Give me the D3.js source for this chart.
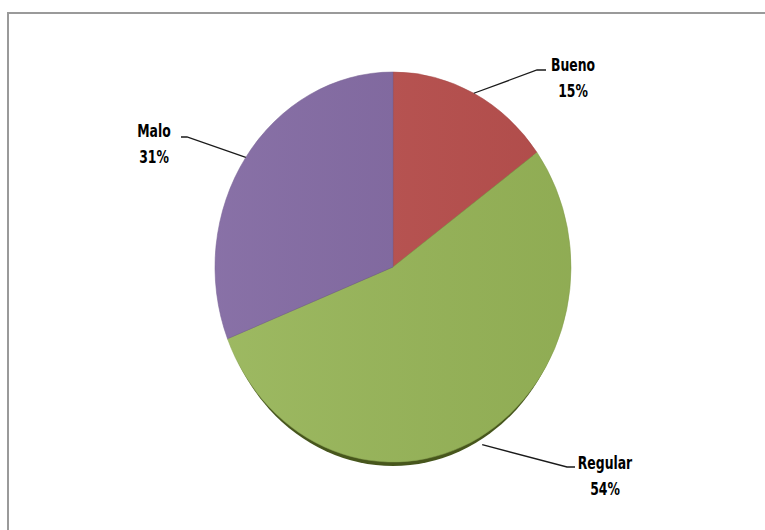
<!DOCTYPE html>
<html>
<head>
<meta charset="utf-8">
<script src="https://cdn.jsdelivr.net/npm/d3@7"></script>
<style>
  html, body { margin: 0; background: #fff; overflow: hidden; }
  svg { display: block; }
  text { font-family: "DejaVu Sans Condensed", "Liberation Sans", sans-serif; font-weight: bold; }
</style>
</head>
<body>
<div id="chart"></div>
<script>
const categories = ["Bueno", "Regular", "Malo"];
const values = [15, 54, 31];
const percentLabels = ["15%", "54%", "31%"];
const colors = ["#B9504E", "#97B558", "#8168A1"];

// label anchor (centre of the text block) and elbow of the leader line, relative to pie centre
const labelPos = {
  Bueno:   { x: 180, y: -205, elbow: [144, -197] },
  Regular: { x: 212, y: 193,  elbow: [174, 200] },
  Malo:    { x: -239, y: -139, elbow: [-206, -130] }
};

const width = 765, height = 530;
const cx = 393, cy = 267, rx = 178, ry = 195;

const svg = d3.select("#chart")
  .append("svg")
  .attr("width", width)
  .attr("height", height);

// frame: only the top and left edges fall inside the picture
svg.append("path")
  .attr("d", `M8,${height + 5}V13H${width + 5}`)
  .attr("fill", "none")
  .attr("stroke", "#9a9a9a")
  .attr("stroke-width", 2);

const defs = svg.append("defs");
defs.append("filter").attr("id", "blur")
  .append("feGaussianBlur").attr("stdDeviation", 0.5);

const shade = defs.append("linearGradient").attr("id", "shade")
  .attr("x1", "0%").attr("x2", "100%").attr("y1", "0%").attr("y2", "0%");
shade.append("stop").attr("offset", "0%").attr("stop-color", "#fff").attr("stop-opacity", 0.06);
shade.append("stop").attr("offset", "100%").attr("stop-color", "#000").attr("stop-opacity", 0.05);

const pie = d3.pie().sort(null).value(d => d)(values);
const arc = d3.arc().innerRadius(0).outerRadius(rx);

const g = svg.append("g").attr("transform", `translate(${cx},${cy})`);

// dark rim under the pie (3D edge)
g.append("ellipse")
  .attr("cx", 0).attr("cy", 5)
  .attr("rx", rx - 3).attr("ry", ry - 1)
  .attr("fill", "#46561f")
  .attr("filter", "url(#blur)");

const pieG = g.append("g").attr("transform", `scale(1, ${ry / rx})`);

pieG.selectAll("path.slice")
  .data(pie)
  .enter().append("path")
  .attr("class", "slice")
  .attr("d", arc)
  .attr("fill", (d, i) => colors[i])
  .attr("stroke", (d, i) => d3.color(colors[i]).darker(0.3))
  .attr("stroke-width", 0.5);

pieG.append("circle")
  .attr("r", rx)
  .attr("fill", "url(#shade)");

// point on the ellipse for an angle (0 = 12 o'clock, clockwise)
function edge(a, k) {
  return [Math.sin(a) * rx * k, -Math.cos(a) * ry * k];
}

pie.forEach((d, i) => {
  const name = categories[i];
  const p = labelPos[name];
  const mid = (d.startAngle + d.endAngle) / 2;
  const start = edge(mid, name === "Regular" ? 1.04 : 1.0);
  const side = p.x > 0 ? -1 : 1;
  const textEdge = p.x + side * (name === "Regular" ? 30 : 27);

  g.append("polyline")
    .attr("points", [start, p.elbow, [textEdge, p.elbow[1]]].map(q => q.join(",")).join(" "))
    .attr("fill", "none")
    .attr("stroke", "#1a1a1a")
    .attr("stroke-width", 1.3);

  // narrow, tall lettering like the original
  const t = g.append("text")
    .attr("text-anchor", "middle")
    .attr("font-size", 15)
    .attr("fill", "#000")
    .attr("transform", `translate(${p.x},${p.y}) scale(0.92,1.2)`);
  t.append("tspan").attr("x", 0).attr("y", 7.5).text(name);
  t.append("tspan").attr("x", 0).attr("y", 29).text(percentLabels[i]);
});
</script>
</body>
</html>
